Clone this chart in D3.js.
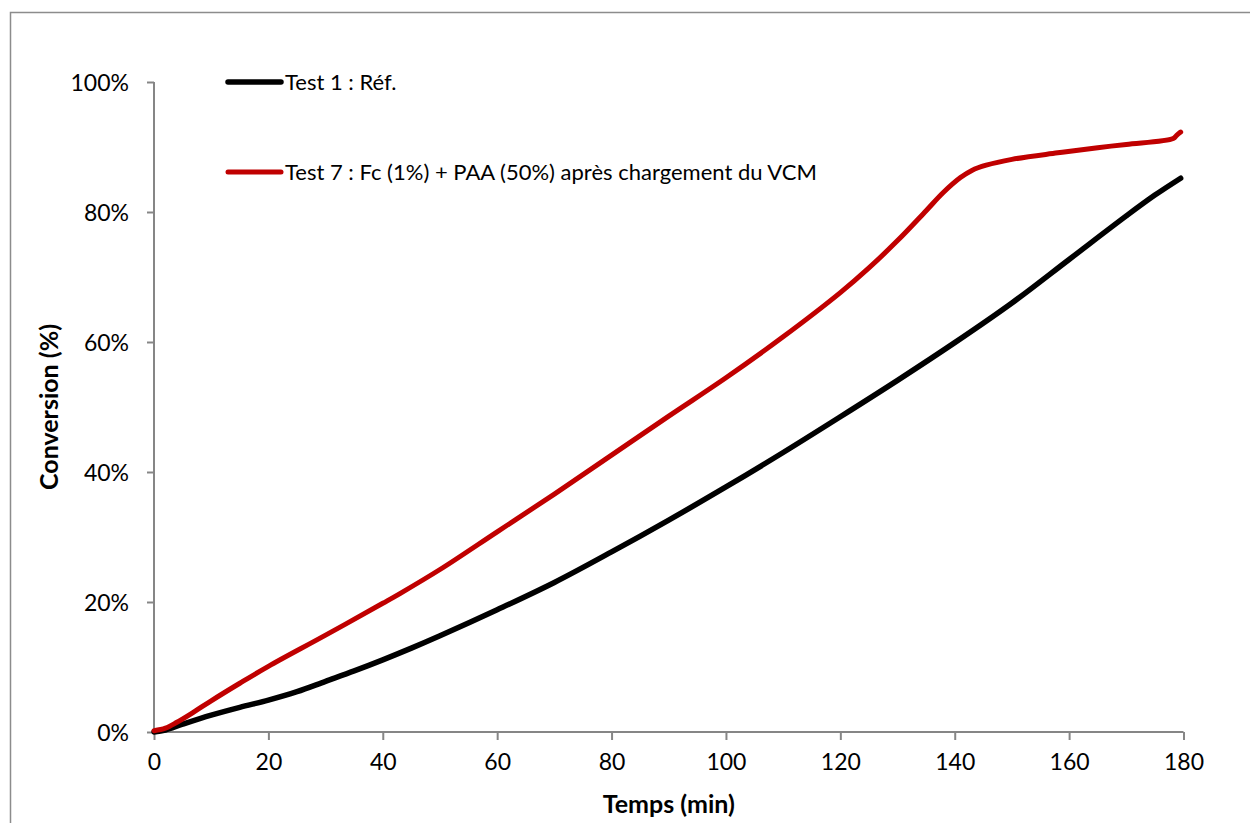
<!DOCTYPE html>
<html>
<head>
<meta charset="utf-8">
<script src="https://cdn.jsdelivr.net/npm/d3@7"></script>
<style>
  html, body { margin: 0; padding: 0; background: #fff; }
  svg { display: block; }
  text { font-family: Lato, "Open Sans", sans-serif; fill: #000; }
</style>
</head>
<body>
<svg id="chart" width="1250" height="823"></svg>
<script>
// Conversion over time for two polymerisation tests
const timeRef = [0, 2, 5, 10, 15, 20, 25, 30, 35, 40, 45, 50, 60, 70, 80, 90, 100, 110, 120, 130, 140, 150, 160, 170, 175, 179.5];
const convRef = [0, 0.3, 1.2, 2.6, 3.8, 4.9, 6.2, 7.8, 9.4, 11.1, 12.9, 14.8, 18.8, 23.0, 27.7, 32.6, 37.7, 43.0, 48.5, 54.1, 59.9, 66.0, 72.7, 79.4, 82.6, 85.2];

const timeTest7 = [0, 2, 4, 7, 10, 15, 20, 30, 40, 43, 50, 60, 70, 80, 90, 100, 110, 120, 125, 130, 135, 138, 141, 143, 145.5, 150, 158, 165, 170, 178.2, 178.8, 179.5];
const convTest7 = [0.2, 0.6, 1.5, 3.1, 4.8, 7.5, 10.1, 14.9, 19.8, 21.3, 25.0, 30.8, 36.6, 42.6, 48.6, 54.5, 60.8, 67.6, 71.4, 75.6, 80.2, 83.0, 85.3, 86.4, 87.2, 88.1, 89.1, 89.9, 90.4, 91.3, 91.8, 92.3];

const seriesNames = ["Test 1 : Réf.", "Test 7 : Fc (1%) + PAA (50%) après chargement du VCM"];
const seriesColors = ["#000000", "#c00000"];

const xTicks = [0, 20, 40, 60, 80, 100, 120, 140, 160, 180];
const yTicks = [0, 0.2, 0.4, 0.6, 0.8, 1.0];
const xTitle = "Temps (min)";
const yTitle = "Conversion (%)";

const svg = d3.select("#chart");
const axisGrey = "#868686";

// chart frame
svg.append("rect")
  .attr("x", 10.5).attr("y", 12.5)
  .attr("width", 1260).attr("height", 830)
  .attr("fill", "none").attr("stroke", "#8c8c8c").attr("stroke-width", 1.5);

const x = d3.scaleLinear().domain([0, 180]).range([154, 1183.5]);
const y = d3.scaleLinear().domain([0, 1]).range([732, 82]);

// x axis
const gx = svg.append("g").attr("transform", `translate(0,${y(0)})`)
  .call(d3.axisBottom(x).tickValues(xTicks).tickSize(8).tickPadding(14).tickFormat(d3.format("d")));
// y axis
const gy = svg.append("g").attr("transform", `translate(${x(0)},0)`)
  .call(d3.axisLeft(y).tickValues(yTicks).tickSize(7).tickPadding(18).tickFormat(d3.format(".0%")));

[gx, gy].forEach(g => {
  g.select(".domain").attr("stroke", axisGrey).attr("stroke-width", 2);
  g.selectAll(".tick line").attr("stroke", axisGrey).attr("stroke-width", 2);
  g.selectAll(".tick text").attr("font-family", "Lato, sans-serif").attr("font-size", 23).attr("fill", "#000");
});
gx.select(".domain").attr("d", `M${x(0)},0H${x(180)}`);
gy.select(".domain").attr("d", `M0,${y(1)}V${y(0)}`);
gy.selectAll(".tick text").attr("dy", "0.36em");

// axis titles
svg.append("text")
  .attr("x", (x(0) + x(180)) / 2).attr("y", 813)
  .attr("text-anchor", "middle").attr("font-weight", "bold").attr("font-size", 25)
  .text(xTitle);
svg.append("text")
  .attr("transform", `translate(58,${(y(0) + y(1)) / 2}) rotate(-90)`)
  .attr("text-anchor", "middle").attr("font-weight", "bold").attr("font-size", 25)
  .text(yTitle);

// curves
const line = d3.line()
  .x(d => x(d[0]))
  .y(d => y(d[1] / 100))
  .curve(d3.curveCatmullRom.alpha(0.5));

const series = [
  d3.zip(timeRef, convRef),
  d3.zip(timeTest7, convTest7)
];

series.forEach((pts, i) => {
  svg.append("path")
    .datum(pts)
    .attr("d", line)
    .attr("fill", "none")
    .attr("stroke", seriesColors[i])
    .attr("stroke-width", i === 0 ? 5.5 : 5)
    .attr("stroke-linecap", "round")
    .attr("stroke-linejoin", "round");
});

// legend
const legendY = [82, 172];
seriesNames.forEach((name, i) => {
  const g = svg.append("g").attr("transform", `translate(0,${legendY[i]})`);
  g.append("line")
    .attr("x1", 228).attr("x2", 281)
    .attr("stroke", seriesColors[i]).attr("stroke-width", i === 0 ? 5.5 : 5)
    .attr("stroke-linecap", "round");
  g.append("text")
    .attr("x", 285).attr("y", 0).attr("dy", "0.36em")
    .attr("font-size", 22)
    .text(name);
});
</script>
</body>
</html>
